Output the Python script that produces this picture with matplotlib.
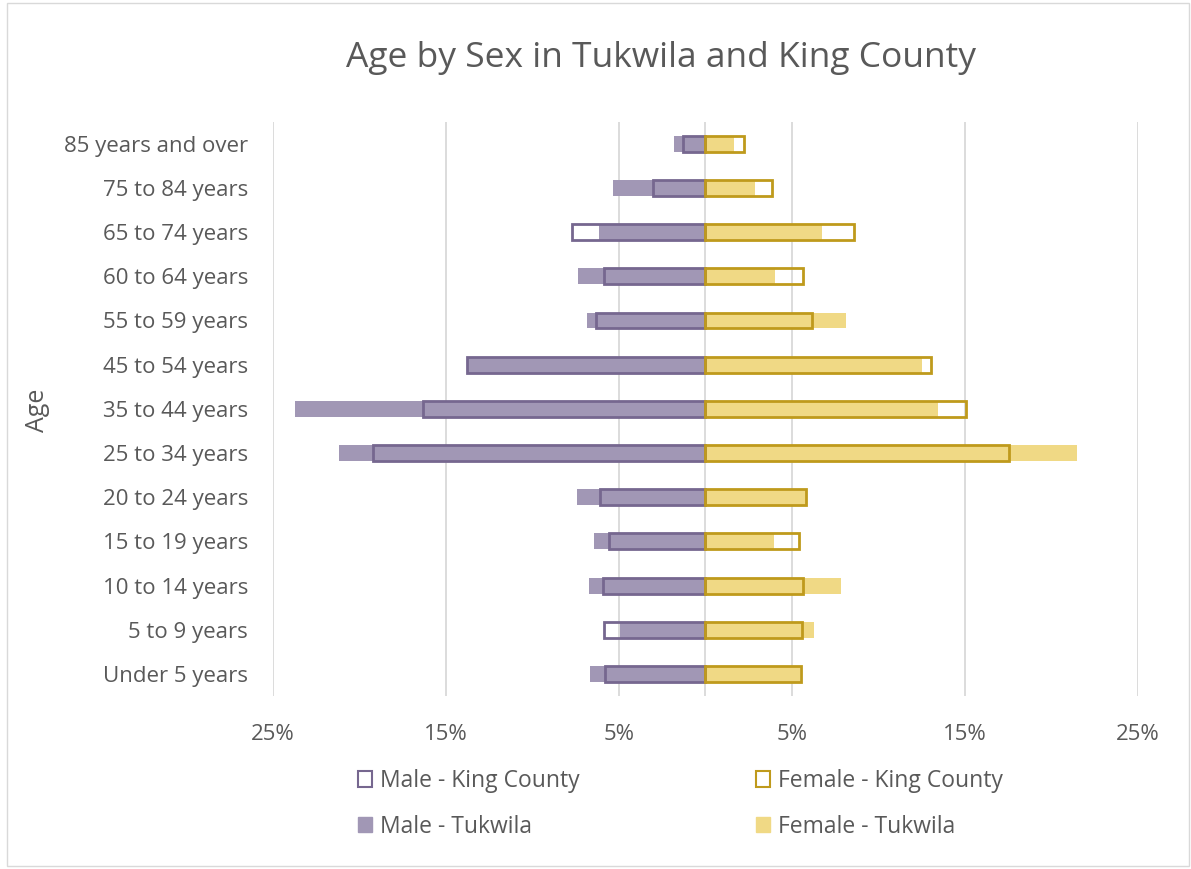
import matplotlib
matplotlib.use("Agg")
import matplotlib.pyplot as plt
from matplotlib.patches import Patch, Rectangle
import numpy as np

categories = ["Under 5 years", "5 to 9 years", "10 to 14 years", "15 to 19 years",
              "20 to 24 years", "25 to 34 years", "35 to 44 years", "45 to 54 years",
              "55 to 59 years", "60 to 64 years", "65 to 74 years", "75 to 84 years",
              "85 years and over"]
male_king = [5.83, 5.88, 5.9, 5.56, 6.1, 19.2, 16.3, 13.8, 6.33, 5.87, 7.73, 3.05, 1.28]
male_tukwila = [6.68, 4.94, 6.73, 6.45, 7.43, 21.2, 23.7, 13.7, 6.85, 7.37, 6.16, 5.36, 1.82]
female_king = [5.5, 5.6, 5.65, 5.42, 5.8, 17.54, 15.07, 13.05, 6.16, 5.64, 8.58, 3.84, 2.2]
female_tukwila = [5.45, 6.25, 7.83, 3.94, 5.85, 21.5, 13.46, 12.5, 8.12, 4.02, 6.75, 2.86, 1.65]
xticks = [-25, -15, -5, 5, 15, 25]
xtick_labels = ["25%", "15%", "5%", "5%", "15%", "25%"]

plt.rcParams['font.family'] = ['Open Sans', 'DejaVu Sans']
TXT = '#595959'
M_FILL = '#A197B5'
M_EDGE = '#76678F'
F_FILL = '#F0D985'
F_EDGE = '#BF9A1C'

fig = plt.figure(figsize=(11.91, 8.69), dpi=100)
ax = fig.add_axes([0.2292, 0.199, 0.7263, 0.661])

y = np.arange(len(categories))
h = 0.36
ax.barh(y, -np.array(male_tukwila), height=h, color=M_FILL, zorder=2)
ax.barh(y, np.array(female_tukwila), height=h, color=F_FILL, zorder=2)
ax.barh(y, -np.array(male_king), height=h, facecolor='none', edgecolor=M_EDGE, linewidth=2, zorder=3)
ax.barh(y, np.array(female_king), height=h, facecolor='none', edgecolor=F_EDGE, linewidth=2, zorder=3)
ax.axvline(0, color='#D9D9D9', linewidth=1.3, zorder=1)

ax.set_xlim(-25, 25)
ax.set_ylim(-0.5, len(categories) - 0.5)
ax.set_xticks(xticks)
ax.set_xticklabels(xtick_labels, fontsize=16, color=TXT)
ax.set_yticks(y)
ax.set_yticklabels(categories, fontsize=16, color=TXT)
ax.tick_params(axis='y', length=0, pad=18)
ax.tick_params(axis='x', length=0, pad=20)
ax.grid(axis='x', color='#D9D9D9', linewidth=1.3, zorder=0)
ax.set_axisbelow(True)
for s in ax.spines.values():
    s.set_visible(False)

fig.text(38 / 1191, 1 - 410 / 869, "Age", rotation=90, ha='center', va='center',
         fontsize=18, color=TXT)
fig.text(661 / 1191, 1 - 58 / 869, "Age by Sex in Tukwila and King County", ha='center', va='center',
         fontsize=25.5, color=TXT)

handles = [Patch(facecolor='white', edgecolor=M_EDGE, linewidth=1.5, label='Male - King County'),
           Patch(facecolor=M_FILL, edgecolor=M_FILL, label='Male - Tukwila'),
           Patch(facecolor='white', edgecolor=F_EDGE, linewidth=1.5, label='Female - King County'),
           Patch(facecolor=F_FILL, edgecolor=F_FILL, label='Female - Tukwila')]
leg = fig.legend(handles=handles, ncol=2, loc='upper left', bbox_to_anchor=(358 / 1191, 1 - 769 / 869),
                 frameon=False, fontsize=16.5, handlelength=0.6, handleheight=0.65,
                 handletextpad=0.35, columnspacing=7.7, labelspacing=0.95, labelcolor=TXT,
                 borderpad=0, borderaxespad=0)

fig.patches.append(Rectangle((0.006, 0.003), 0.992, 0.994, transform=fig.transFigure,
                             fill=False, edgecolor='#D9D9D9', linewidth=1))

fig.savefig("out.png", dpi=100)
